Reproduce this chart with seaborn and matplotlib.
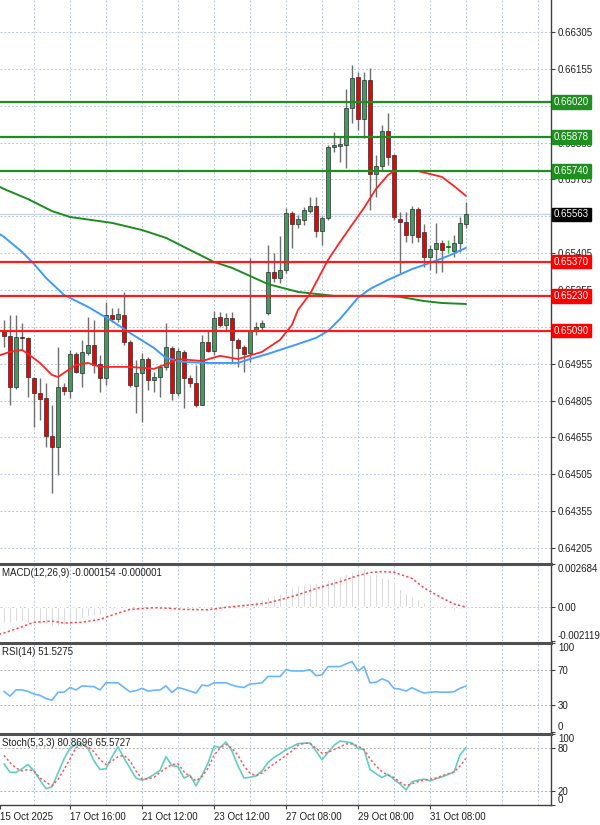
import matplotlib
matplotlib.use("Agg")
import matplotlib.pyplot as plt
import numpy as np
import pandas as pd
import seaborn as sns

# ローソク足 (4時間足, 78本)
candle_open = [
    0.65092, 0.65068, 0.64860, 0.65064, 0.65060, 0.64897, 0.64836, 0.64816, 0.64661, 0.64616,
    0.64860, 0.64844, 0.64995, 0.64917, 0.64999, 0.65031, 0.64954, 0.64897, 0.65153, 0.65137,
    0.65153, 0.65043, 0.64864, 0.64917, 0.64974, 0.64889, 0.64901, 0.64942, 0.65019, 0.64836,
    0.65003, 0.64897, 0.64877, 0.64787, 0.65043, 0.65007, 0.65145, 0.65113, 0.65141, 0.65052,
    0.65023, 0.64999, 0.65088, 0.65105, 0.65161, 0.65328, 0.65304, 0.65336, 0.65568, 0.65524,
    0.65540, 0.65576, 0.65597, 0.65495, 0.65548, 0.65837, 0.65841, 0.65845, 0.65996, 0.66122,
    0.65951, 0.66110, 0.65727, 0.65760, 0.65902, 0.65804, 0.65544, 0.65532, 0.65479, 0.65585,
    0.65491, 0.65389, 0.65422, 0.65446, 0.65430, 0.65414, 0.65446, 0.65524,
]
candle_high = [
    0.65133, 0.65153, 0.65153, 0.65121, 0.65064, 0.64901, 0.64897, 0.64877, 0.64787, 0.65023,
    0.64877, 0.65011, 0.65003, 0.65052, 0.65145, 0.65133, 0.64991, 0.65206, 0.65182, 0.65182,
    0.65247, 0.65052, 0.64970, 0.64999, 0.64982, 0.64921, 0.64950, 0.65121, 0.65027, 0.65019,
    0.65011, 0.64909, 0.64950, 0.65072, 0.65092, 0.65170, 0.65166, 0.65161, 0.65166, 0.65060,
    0.65031, 0.65385, 0.65125, 0.65133, 0.65438, 0.65406, 0.65475, 0.65589, 0.65576, 0.65560,
    0.65593, 0.65634, 0.65634, 0.65556, 0.65845, 0.65898, 0.65878, 0.66073, 0.66171, 0.66142,
    0.66142, 0.66158, 0.65804, 0.65927, 0.65975, 0.65809, 0.65572, 0.65572, 0.65597, 0.65593,
    0.65524, 0.65438, 0.65528, 0.65459, 0.65459, 0.65479, 0.65552, 0.65613,
]
candle_low = [
    0.65023, 0.64787, 0.64852, 0.65011, 0.64820, 0.64698, 0.64726, 0.64616, 0.64429, 0.64502,
    0.64828, 0.64816, 0.64917, 0.64860, 0.64991, 0.64917, 0.64840, 0.64868, 0.65125, 0.65125,
    0.65031, 0.64860, 0.64755, 0.64718, 0.64848, 0.64840, 0.64820, 0.64929, 0.64807, 0.64824,
    0.64775, 0.64860, 0.64779, 0.64787, 0.65003, 0.64991, 0.65105, 0.65092, 0.64958, 0.64942,
    0.64921, 0.64962, 0.65072, 0.65092, 0.65153, 0.65288, 0.65284, 0.65324, 0.65426, 0.65507,
    0.65520, 0.65568, 0.65471, 0.65438, 0.65540, 0.65817, 0.65776, 0.65752, 0.65935, 0.65906,
    0.65874, 0.65581, 0.65634, 0.65743, 0.65764, 0.65540, 0.65324, 0.65450, 0.65446, 0.65450,
    0.65349, 0.65336, 0.65324, 0.65328, 0.65406, 0.65389, 0.65410, 0.65507,
]
candle_close = [
    0.65068, 0.64860, 0.65064, 0.65060, 0.64901, 0.64836, 0.64811, 0.64661, 0.64616, 0.64860,
    0.64844, 0.64995, 0.64921, 0.65003, 0.65031, 0.64950, 0.64897, 0.65153, 0.65137, 0.65157,
    0.65043, 0.64868, 0.64917, 0.64974, 0.64889, 0.64901, 0.64942, 0.65023, 0.64836, 0.65007,
    0.64897, 0.64877, 0.64787, 0.65043, 0.65007, 0.65141, 0.65113, 0.65141, 0.65052, 0.65019,
    0.64995, 0.65088, 0.65105, 0.65121, 0.65328, 0.65304, 0.65336, 0.65568, 0.65524, 0.65544,
    0.65581, 0.65597, 0.65495, 0.65548, 0.65837, 0.65845, 0.65847, 0.65996, 0.66118, 0.65951,
    0.66110, 0.65727, 0.65760, 0.65902, 0.65796, 0.65552, 0.65532, 0.65479, 0.65585, 0.65471,
    0.65389, 0.65422, 0.65446, 0.65418, 0.65430, 0.65446, 0.65528, 0.65563,
]
doji_marker_idx = 74

# 移動平均線 (チャートから読み取った値)
ma_fast_idx = [-1, 0, 1, 3, 4, 6, 8, 9, 11, 12, 14, 16, 21, 25, 28, 29, 33, 36, 39, 43, 46, 48,
               49, 51, 54, 56, 58, 60, 62, 64, 65, 69, 71, 73, 75, 77]
ma_fast_val = [0.64987, 0.64995, 0.65003, 0.65011, 0.64995, 0.64958, 0.64909, 0.64901, 0.64934,
               0.64950, 0.64958, 0.64942, 0.64942, 0.64934, 0.64962, 0.64974, 0.64966, 0.64987,
               0.64974, 0.65003, 0.65052, 0.65113, 0.65174, 0.65239, 0.65377, 0.65450, 0.65520,
               0.65589, 0.65666, 0.65723, 0.65739, 0.65739, 0.65727, 0.65715, 0.65678, 0.65638]
ma_mid_idx = [-1, 0, 3, 5, 7, 10, 14, 18, 21, 25, 27, 30, 34, 39, 41, 44, 46, 49, 52, 54, 56,
              59, 61, 64, 68, 71, 74, 77]
ma_mid_val = [0.65487, 0.65471, 0.65410, 0.65361, 0.65304, 0.65235, 0.65186, 0.65129, 0.65080,
              0.65019, 0.64978, 0.64962, 0.64958, 0.64958, 0.64974, 0.64995, 0.65011, 0.65035,
              0.65060, 0.65088, 0.65137, 0.65223, 0.65259, 0.65296, 0.65340, 0.65365, 0.65393,
              0.65426]
ma_slow_idx = [-1, 0, 4, 8, 11, 18, 23, 27, 30, 35, 38, 41, 44, 49, 55, 63, 66, 70, 73, 77]
ma_slow_val = [0.65678, 0.65666, 0.65625, 0.65576, 0.65552, 0.65528, 0.65499, 0.65467, 0.65430,
               0.65369, 0.65345, 0.65312, 0.65279, 0.65247, 0.65231, 0.65231, 0.65227, 0.65210,
               0.65202, 0.65198]

# 水平ライン
resistance_levels = [0.66020, 0.65878, 0.65740]
support_levels = [0.65370, 0.65230, 0.65090]
last_price = 0.65563
price_ticks = [0.64205, 0.64355, 0.64505, 0.64655, 0.64805, 0.64955, 0.65105, 0.65255,
               0.65405, 0.65555, 0.65705, 0.65855, 0.66005, 0.66155, 0.66305]
# ラベルボックスで完全に隠れる目盛り (グリッド線のみ残す)
hidden_price_ticks = [0.65105, 0.65555, 0.66005]

# MACD(12,26,9)
macd_hist = [
    -0.00098, -0.00098, -0.00089, -0.00089, -0.00098, -0.00098, -0.00106, -0.00106, -0.00119,
    -0.00119, -0.00110, -0.00098, -0.00081, -0.00068, -0.00055, -0.00047, -0.00047, -0.00026,
    -0.00013, -0.00004, -0.00004, -0.00013, -0.00017, -0.00017, -0.00013, -0.00013, -0.00009,
    -0.00004, -0.00009, -0.00009, -0.00013, -0.00017, -0.00021, -0.00009, -0.00004, 0.00009,
    0.00013, 0.00017, 0.00013, 0.00021, 0.00026, 0.00034, 0.00038, 0.00047, 0.00064, 0.00072,
    0.00085, 0.00119, 0.00128, 0.00136, 0.00140, 0.00149, 0.00149, 0.00149, 0.00170, 0.00179,
    0.00196, 0.00208, 0.00221, 0.00240, 0.00243, 0.00205, 0.00204, 0.00190, 0.00179, 0.00158,
    0.00114, 0.00088, 0.00071, 0.00051, 0.00029, 0.00009, 0.00000, -0.00005, -0.00009,
    -0.00017, -0.00015, -0.000154,
]
macd_signal_idx = [-1, 0, 3, 5, 8, 10, 13, 16, 19, 21, 25, 28, 30, 34, 37, 40, 44, 47, 49, 52,
                   56, 59, 61, 63, 65, 68, 70, 73, 75, 77]
macd_signal_val = [-0.00172, -0.00162, -0.00123, -0.00095, -0.00088, -0.00100, -0.00095,
                   -0.00077, -0.00038, -0.00015, -0.00004, -0.00009, -0.00015, -0.00017,
                   -0.00002, 0.00009, 0.00026, 0.00055, 0.00077, 0.00115, 0.00158, 0.00196,
                   0.00215, 0.00221, 0.00217, 0.00179, 0.00119, 0.00057, 0.00019, -0.000001]
macd_ticks = [-0.002119, 0.0, 0.002684]
macd_tick_labels = ["-0.002119", "0.00", "0.002684"]

# RSI(14)
rsi_values = [
    45.6, 40.3, 47.3, 47.3, 45.6, 42.6, 41.2, 37.6, 35.8, 44.7, 44.7, 50.0, 47.3, 51.8, 51.3,
    50.9, 47.3, 55.3, 55.3, 55.3, 50.0, 45.2, 46.5, 49.1, 46.0, 46.9, 47.3, 51.8, 44.4, 50.0,
    48.2, 46.0, 43.7, 52.7, 51.8, 55.3, 55.3, 55.3, 52.7, 50.9, 50.0, 54.0, 54.4, 55.3, 62.4,
    62.4, 62.4, 70.1, 68.6, 68.6, 68.6, 70.1, 63.3, 64.2, 73.5, 73.5, 73.5, 76.5, 79.2, 68.6,
    73.5, 55.3, 55.9, 59.7, 57.1, 49.1, 48.2, 46.0, 49.8, 46.5, 43.7, 44.7, 45.2, 44.7, 44.7,
    45.2, 49.1, 51.53,
]

# Stoch(5,3,3)
stoch_k = [
    58, 46, 46, 51, 57, 48, 35, 23, 25.5, 45, 65, 80, 85, 87, 80, 62, 50, 51, 68, 82, 66, 52,
    38, 35, 38, 43, 48.7, 68, 55.5, 54, 38, 42, 27, 42, 59, 82.8, 81, 88.7, 76, 55, 38, 39, 41,
    47.9, 60, 67, 72, 78, 82, 86.5, 87, 87.4, 76, 63.7, 74, 84, 90, 89, 87.4, 79.7, 78.3, 50,
    44, 38.7, 43.2, 36, 29.6, 21.5, 32.7, 35, 36.4, 34, 37, 39.6, 43, 46.4, 70.5, 80.87,
]
stoch_d = [
    70, 59.6, 52, 48, 50, 48, 38, 32, 27, 36, 50, 65, 81, 84, 82, 75, 64, 57, 62, 68, 70, 62,
    48, 36.4, 37, 39, 46, 52, 57, 58, 47, 40, 34, 40, 52, 70, 80, 85.5, 80, 70, 55, 45, 41, 45,
    52, 58, 63.7, 70, 76, 84, 87, 87, 80, 73, 74, 78, 82, 86, 86, 83, 78, 65, 55, 47, 42, 38.7,
    32, 27.3, 30, 33, 35, 36.4, 38, 41, 44, 46.4, 55, 65.57,
]

# 時間軸
time_label_pos = [-0.6, 11, 23, 35, 47, 59, 71]
time_labels = ["15 Oct 2025", "17 Oct 16:00", "21 Oct 12:00", "23 Oct 12:00",
               "27 Oct 08:00", "29 Oct 08:00", "31 Oct 08:00"]
vgrid_pos = [5, 11, 17, 23, 29, 35, 41, 47, 53, 59, 65, 71, 77, 83, 89]

sns.set_theme(style="white")
plt.rcParams["font.family"] = ["Liberation Sans", "DejaVu Sans"]

GRID_COLOR = "#b8c8dc"
SPINE_COLOR = "#404040"
FS = 7

fig = plt.figure(figsize=(6, 8.25), dpi=100)
ax_price = fig.add_axes([0, 263 / 825, 551 / 600, 562 / 825])
ax_macd = fig.add_axes([0, 184 / 825, 551 / 600, 77 / 825])
ax_rsi = fig.add_axes([0, 93 / 825, 551 / 600, 89 / 825])
ax_stoch = fig.add_axes([0, 20 / 825, 551 / 600, 71 / 825])
axes = [ax_price, ax_macd, ax_rsi, ax_stoch]

x_min, x_max = -0.667, 91.17
for ax in axes:
    ax.set_xlim(x_min, x_max)
    ax.set_facecolor("white")
    for xv in vgrid_pos:
        ax.axvline(xv, color=GRID_COLOR, lw=0.7, ls=(0, (2, 2)), zorder=0)
    ax.yaxis.tick_right()
    ax.tick_params(axis="y", which="both", length=3, width=0.8, color=SPINE_COLOR,
                   labelsize=FS, pad=2, labelcolor="#202020", right=True, left=False)
    ax.spines["left"].set_visible(False)
    ax.spines["bottom"].set_visible(False)
    ax.spines["right"].set_color(SPINE_COLOR)
    ax.spines["right"].set_linewidth(1.0)
    ax.spines["top"].set_color("#505050")
    ax.spines["top"].set_linewidth(2.2)
    ax.set_xticks([])

ax_price.spines["top"].set_visible(False)
ax_stoch.spines["bottom"].set_visible(True)
ax_stoch.spines["bottom"].set_color(SPINE_COLOR)
ax_stoch.spines["bottom"].set_linewidth(1.0)

# ---- 価格チャート ----
df = pd.DataFrame({"open": candle_open, "high": candle_high,
                   "low": candle_low, "close": candle_close})
df["idx"] = np.arange(len(df))
up = df["close"] >= df["open"]
body_colors = np.where(up, "#3d9c5e", "#f00000").astype(object)
wick_colors = np.full(len(df), "#6f6f6f", dtype=object)
body_colors[doji_marker_idx] = "#22dd22"
wick_colors[doji_marker_idx] = "#22dd22"

ax_price.set_ylim(0.64148, 0.66435)
for yv in price_ticks:
    ax_price.axhline(yv, color=GRID_COLOR, lw=0.7, ls=(0, (2, 2)), zorder=0)
ax_price.axhline(last_price, color="#c9d3df", lw=1.0, zorder=1)

ax_price.vlines(df["idx"], df["low"], df["high"], colors=list(wick_colors), lw=1.0, zorder=3)
body_h = (df["close"] - df["open"]).where(lambda s: s.abs() > 0.000025, 0.000025)
ax_price.bar(df["idx"], body_h, bottom=df["open"], width=0.62,
             color=list(body_colors), edgecolor="#2d2d2d", linewidth=0.5, zorder=4)

sns.lineplot(x=ma_slow_idx, y=ma_slow_val, ax=ax_price, color="#1f8c1f", lw=1.4, zorder=5)
sns.lineplot(x=ma_mid_idx, y=ma_mid_val, ax=ax_price, color="#3d9bff", lw=1.4, zorder=5)
sns.lineplot(x=ma_fast_idx, y=ma_fast_val, ax=ax_price, color="#ff2424", lw=1.3, zorder=5)

for lv in resistance_levels:
    ax_price.axhline(lv, color="#1e8e1e", lw=1.6, zorder=6)
for lv in support_levels:
    ax_price.axhline(lv, color="#ff1a1a", lw=1.6, zorder=6)

ax_price.set_yticks(price_ticks)
ax_price.set_yticklabels(["" if v in hidden_price_ticks else f"{v:.5f}" for v in price_ticks])

ytrans = ax_price.get_yaxis_transform()
box_x = 1 + 3 / 551
for lv in resistance_levels:
    ax_price.text(box_x, lv, f"{lv:.5f}", transform=ytrans, fontsize=FS, color="white",
                  ha="left", va="center", clip_on=False, zorder=10,
                  bbox=dict(boxstyle="square,pad=0.18", fc="#1f8f1f", ec="#1f8f1f"))
for lv in support_levels:
    ax_price.text(box_x, lv, f"{lv:.5f}", transform=ytrans, fontsize=FS, color="white",
                  ha="left", va="center", clip_on=False, zorder=10,
                  bbox=dict(boxstyle="square,pad=0.18", fc="#ff0000", ec="#ff0000"))
ax_price.text(box_x, last_price, f"{last_price:.5f}", transform=ytrans, fontsize=FS,
              color="white", ha="left", va="center", clip_on=False, zorder=10,
              bbox=dict(boxstyle="square,pad=0.18", fc="#000000", ec="#000000"))

# ---- MACD ----
ax_macd.set_ylim(-0.002119, 0.002684)
ax_macd.axhline(0, color=GRID_COLOR, lw=0.7, ls=(0, (2, 2)), zorder=0)
ax_macd.bar(np.arange(len(macd_hist)), macd_hist, width=0.22, color="#c4c4c4", zorder=2)
sns.lineplot(x=macd_signal_idx, y=macd_signal_val, ax=ax_macd, color="#ff4a4a",
             lw=1.1, ls=(0, (1.5, 1.5)), zorder=3)
ax_macd.set_yticks(macd_ticks)
ax_macd.set_yticklabels(macd_tick_labels)
lbls = ax_macd.get_yticklabels()
lbls[0].set_va("bottom")
lbls[2].set_va("top")
ax_macd.text(0.004, 0.95, "MACD(12,26,9) -0.000154 -0.000001", transform=ax_macd.transAxes,
             fontsize=FS, va="top", ha="left", color="#202020")

# ---- RSI ----
ax_rsi.set_ylim(0, 100)
for lv in [30, 70]:
    ax_rsi.axhline(lv, color="#b0b0b0", lw=0.7, ls=(0, (2, 2)), zorder=0)
sns.lineplot(x=np.arange(len(rsi_values)), y=rsi_values, ax=ax_rsi, color="#6ab6ff",
             lw=1.2, zorder=3)
ax_rsi.set_yticks([0, 30, 70, 100])
ax_rsi.set_yticklabels(["0", "30", "70", "100"])
lbls = ax_rsi.get_yticklabels()
lbls[0].set_va("bottom")
lbls[3].set_va("top")
ax_rsi.text(0.004, 0.96, "RSI(14) 51.5275", transform=ax_rsi.transAxes,
            fontsize=FS, va="top", ha="left", color="#202020")

# ---- Stochastic ----
ax_stoch.set_ylim(0, 100)
for lv in [20, 80]:
    ax_stoch.axhline(lv, color="#b0b0b0", lw=0.7, ls=(0, (2, 2)), zorder=0)
sns.lineplot(x=np.arange(len(stoch_k)), y=stoch_k, ax=ax_stoch, color="#5fd0c4",
             lw=1.2, zorder=3)
sns.lineplot(x=np.arange(len(stoch_d)), y=stoch_d, ax=ax_stoch, color="#ff5a5a",
             lw=1.1, ls=(0, (1.5, 1.5)), zorder=4)
ax_stoch.set_yticks([0, 20, 80, 100])
ax_stoch.set_yticklabels(["0", "20", "80", "100"])
lbls = ax_stoch.get_yticklabels()
lbls[0].set_va("bottom")
lbls[3].set_va("top")
ax_stoch.text(0.004, 0.95, "Stoch(5,3,3) 80.8696 65.5727", transform=ax_stoch.transAxes,
              fontsize=FS, va="top", ha="left", color="#202020")

ax_stoch.set_xticks(time_label_pos)
ax_stoch.set_xticklabels(time_labels)
ax_stoch.tick_params(axis="x", length=3, width=0.8, color=SPINE_COLOR, labelsize=FS,
                     pad=2, labelcolor="#202020", bottom=True)
for lbl in ax_stoch.get_xticklabels():
    lbl.set_ha("left")

for ax in axes:
    ax.set_xlabel("")
    ax.set_ylabel("")
    if ax.get_legend() is not None:
        ax.get_legend().remove()

fig.savefig("out.png", dpi=100)
plt.close(fig)
